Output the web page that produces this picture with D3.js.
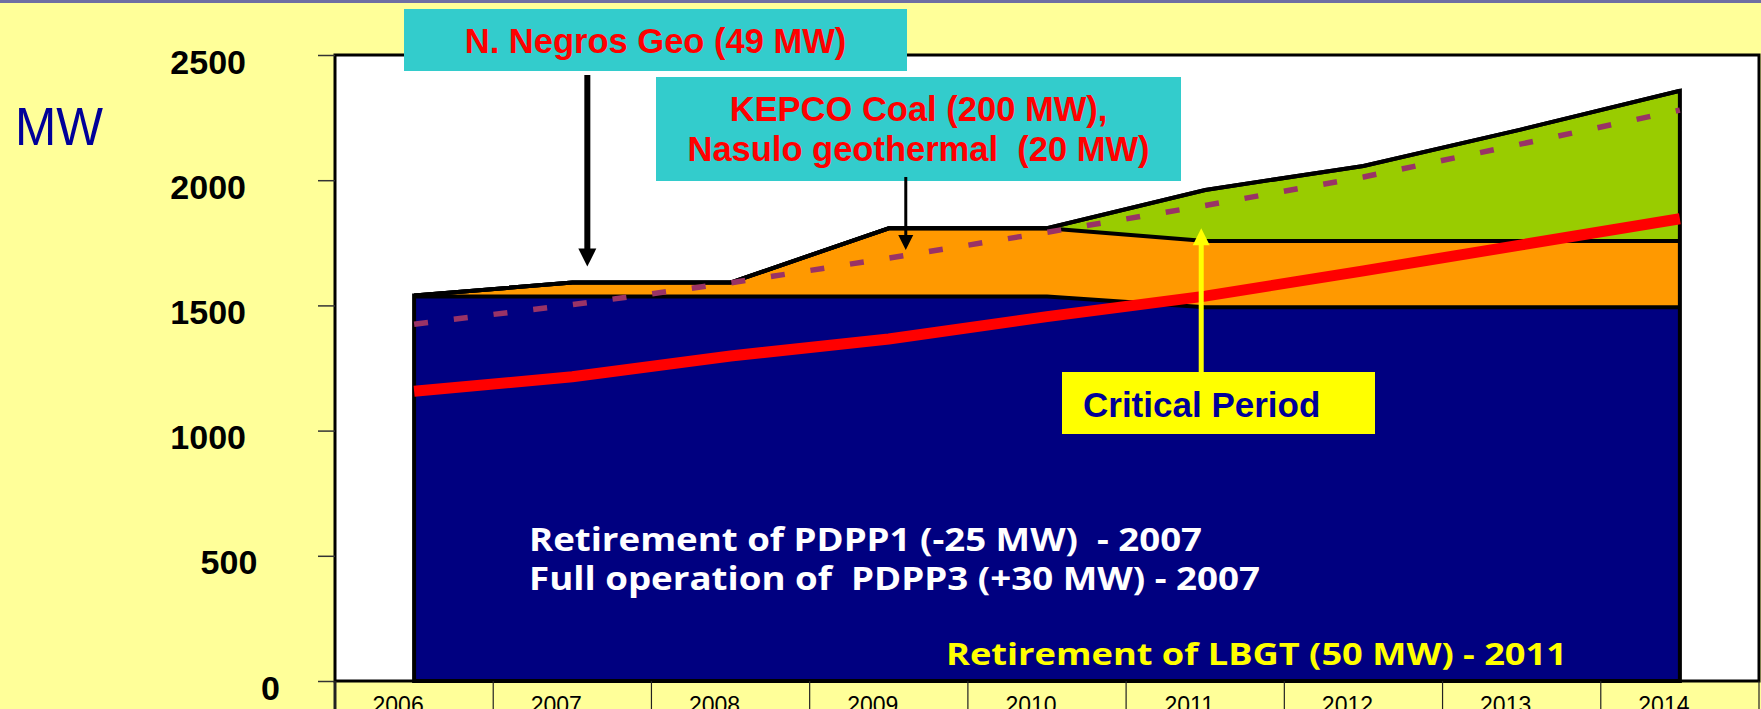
<!DOCTYPE html>
<html>
<head>
<meta charset="utf-8">
<script src="https://cdn.jsdelivr.net/npm/d3@7"></script>
<style>
  html, body { margin: 0; padding: 0; background: #FFFF99; }
  svg { display: block; }
  text { white-space: pre; }
</style>
</head>
<body>
<svg id="chart" width="1761" height="709"></svg>
<script>
// data (MW)
const years = [2006, 2007, 2008, 2009, 2010, 2011, 2012, 2013, 2014];
const existingMW   = [1536, 1536, 1536, 1536, 1536, 1493, 1493, 1493, 1493];
const committedMW  = [4, 55, 55, 272, 272, 264, 264, 264, 264];
const indicativeMW = [0, 0, 0, 0, 0, 204, 300, 446, 600];
const demandMW     = [1157, 1215, 1298, 1366, 1455, 1537, 1638, 1742, 1846];
const demandReserveMW = [1425, 1503, 1590, 1689, 1792, 1899, 2013, 2145, 2280];
const yTicks = [0, 500, 1000, 1500, 2000, 2500];

const boxNegros = ["N. Negros Geo (49 MW)"];
const boxKepco = ["KEPCO Coal (200 MW),", "Nasulo geothermal  (20 MW)"];
const boxCritical = ["Critical Period"];
const notesWhite = ["Retirement of PDPP1 (-25 MW)  - 2007", "Full operation of  PDPP3 (+30 MW) - 2007"];
const noteYellow = ["Retirement of LBGT (50 MW) - 2011"];

//dimensions
const width = 1761;
const height = 709;
const plot = { left: 335, right: 1759, top: 55, bottom: 681 };
const ARIAL = "'Liberation Sans', Arial, sans-serif";
const TAHOMA = "'Open Sans', 'DejaVu Sans', sans-serif";

const svg = d3.select("#chart");

//scales
const x = d3.scaleBand().domain(years).range([plot.left, plot.right]).padding(0);
const xc = yr => x(yr) + x.bandwidth() / 2;
const y = d3.scaleLinear().domain([0, 2500]).range([plot.bottom, plot.top]);

//page
svg.append("rect").attr("width", width).attr("height", height).attr("fill", "#FFFF99");
svg.append("rect").attr("width", width).attr("height", 3).attr("fill", "#6f6fa3");

svg.append("text")
    .attr("x", 15).attr("y", 145)
    .attr("font-family", ARIAL).attr("font-size", 54)
    .attr("textLength", 88).attr("lengthAdjust", "spacingAndGlyphs")
    .attr("fill", "#000099")
    .text("MW");

//frame
svg.append("rect")
    .attr("x", plot.left).attr("y", plot.top)
    .attr("width", plot.right - plot.left).attr("height", plot.bottom - plot.top)
    .attr("fill", "#fff").attr("stroke", "#000").attr("stroke-width", 3);

//stacked areas
const rows = years.map((yr, i) => ({
    year: yr, existing: existingMW[i], committed: committedMW[i], indicative: indicativeMW[i]
}));
const keys = ["existing", "committed", "indicative"];
const fills = { existing: "#000080", committed: "#FF9900", indicative: "#99CC00" };
const stacked = d3.stack().keys(keys)(rows);

const area = d3.area()
    .x(d => xc(d.data.year))
    .y0(d => y(d[0]))
    .y1(d => y(d[1]));
const topLine = d3.line()
    .x(d => xc(d.data.year))
    .y(d => y(d[1]));

const areasG = svg.append("g").attr("class", "areas");
areasG.selectAll("path.layer").data(stacked).join("path")
    .attr("class", "layer")
    .attr("d", area)
    .attr("fill", d => fills[d.key]);

areasG.selectAll("path.edge").data(stacked).join("path")
    .attr("class", "edge")
    .attr("d", topLine)
    .attr("fill", "none").attr("stroke", "#000").attr("stroke-width", 4);

// outline of the whole stack (side edges)
const outline = d3.area()
    .x(d => xc(d.data.year))
    .y0(y(0))
    .y1(d => y(d[1]));
areasG.append("path")
    .attr("d", outline(stacked[stacked.length - 1]))
    .attr("fill", "none").attr("stroke", "#000").attr("stroke-width", 4);

//lines
const valueLine = d3.line()
    .x((d, i) => xc(years[i]))
    .y(d => y(d));

svg.append("path")
    .attr("d", valueLine(demandReserveMW))
    .attr("fill", "none").attr("stroke", "#993366")
    .attr("stroke-width", 5.5).attr("stroke-dasharray", "14,26");

svg.append("path")
    .attr("d", valueLine(demandMW))
    .attr("fill", "none").attr("stroke", "#FF0000")
    .attr("stroke-width", 11);

//y axis
const yAxisG = svg.append("g")
    .attr("transform", "translate(" + plot.left + ",0)")
    .call(d3.axisLeft(y).tickValues(yTicks).tickSize(17).tickFormat(d => d));
yAxisG.select(".domain").remove();
yAxisG.selectAll(".tick line").attr("stroke", "#333").attr("stroke-width", 1.5);
yAxisG.selectAll(".tick text")
    .attr("x", d => -89 + (4 - String(d).length) * 11.3)
    .attr("y", 18).attr("dy", null)
    .attr("fill", "#000")
    .attr("font-family", ARIAL).attr("font-size", 34).attr("font-weight", "bold");

//x axis cells
const edges = years.map(yr => x(yr)).concat([plot.right]);
svg.append("g").selectAll("line").data(edges).join("line")
    .attr("x1", d => d).attr("x2", d => d)
    .attr("y1", plot.bottom).attr("y2", height)
    .attr("stroke", "#222").attr("stroke-width", d => d === plot.left ? 3 : 1.2);
svg.append("g").selectAll("text").data(years).join("text")
    .attr("x", d => xc(d) - 16).attr("y", 713)
    .attr("text-anchor", "middle")
    .attr("font-family", ARIAL).attr("font-size", 23)
    .attr("fill", "#000")
    .text(d => d);

//annotations
function arrow(g, xPos, yStart, yTip, lineW, head, colour) {
    const dir = yTip > yStart ? 1 : -1;
    g.append("line")
        .attr("x1", xPos).attr("x2", xPos)
        .attr("y1", yStart).attr("y2", yTip - dir * head * 0.8)
        .attr("stroke", colour).attr("stroke-width", lineW);
    g.append("path")
        .attr("d", "M" + (xPos - head / 2) + "," + (yTip - dir * head)
            + "L" + (xPos + head / 2) + "," + (yTip - dir * head)
            + "L" + xPos + "," + yTip + "Z")
        .attr("fill", colour);
}

const noteG = svg.append("g").attr("class", "notes");

// texts in the existing capacity band
noteG.selectAll("text.white").data(notesWhite).join("text")
    .attr("class", "white")
    .attr("x", 529).attr("y", (d, i) => 550.5 + i * 39.5)
    .attr("font-family", TAHOMA).attr("font-size", 32).attr("font-weight", "bold")
    .attr("textLength", (d, i) => i === 0 ? 673 : 731).attr("lengthAdjust", "spacingAndGlyphs")
    .attr("fill", "#fff")
    .text(d => d);
noteG.selectAll("text.yellow").data(noteYellow).join("text")
    .attr("class", "yellow")
    .attr("x", 946).attr("y", 665)
    .attr("font-family", TAHOMA).attr("font-size", 30).attr("font-weight", "bold")
    .attr("textLength", 621).attr("lengthAdjust", "spacingAndGlyphs")
    .attr("fill", "#FFFF00")
    .text(d => d);

// critical period
arrow(noteG, xc(2011) - 4, 372, y(1808), 5, 17, "#FFFF00");
noteG.append("rect")
    .attr("x", 1062).attr("y", 372).attr("width", 313).attr("height", 62)
    .attr("fill", "#FFFF00");
noteG.selectAll("text.crit").data(boxCritical).join("text")
    .attr("class", "crit")
    .attr("x", 1083).attr("y", 417)
    .attr("font-family", ARIAL).attr("font-size", 35).attr("font-weight", "bold")
    .attr("fill", "#000099")
    .text(d => d);

// N. Negros
noteG.append("rect")
    .attr("x", 404).attr("y", 9).attr("width", 503).attr("height", 62)
    .attr("fill", "#33CCCC");
noteG.selectAll("text.negros").data(boxNegros).join("text")
    .attr("class", "negros")
    .attr("x", 655.5).attr("y", 53)
    .attr("text-anchor", "middle")
    .attr("font-family", ARIAL).attr("font-size", 34.5).attr("font-weight", "bold")
    .attr("fill", "#FF0000")
    .text(d => d);
arrow(noteG, xc(2007) + 15, 75, y(1655), 6, 18, "#000");

// KEPCO
noteG.append("rect")
    .attr("x", 656).attr("y", 77).attr("width", 525).attr("height", 104)
    .attr("fill", "#33CCCC");
noteG.selectAll("text.kepco").data(boxKepco).join("text")
    .attr("class", "kepco")
    .attr("x", 918.5).attr("y", (d, i) => 121 + i * 39.5)
    .attr("text-anchor", "middle")
    .attr("font-family", ARIAL).attr("font-size", 34.5).attr("font-weight", "bold")
    .attr("fill", "#FF0000")
    .text(d => d);
arrow(noteG, xc(2009) + 17, 177, y(1721), 3, 15, "#000");
</script>
</body>
</html>
